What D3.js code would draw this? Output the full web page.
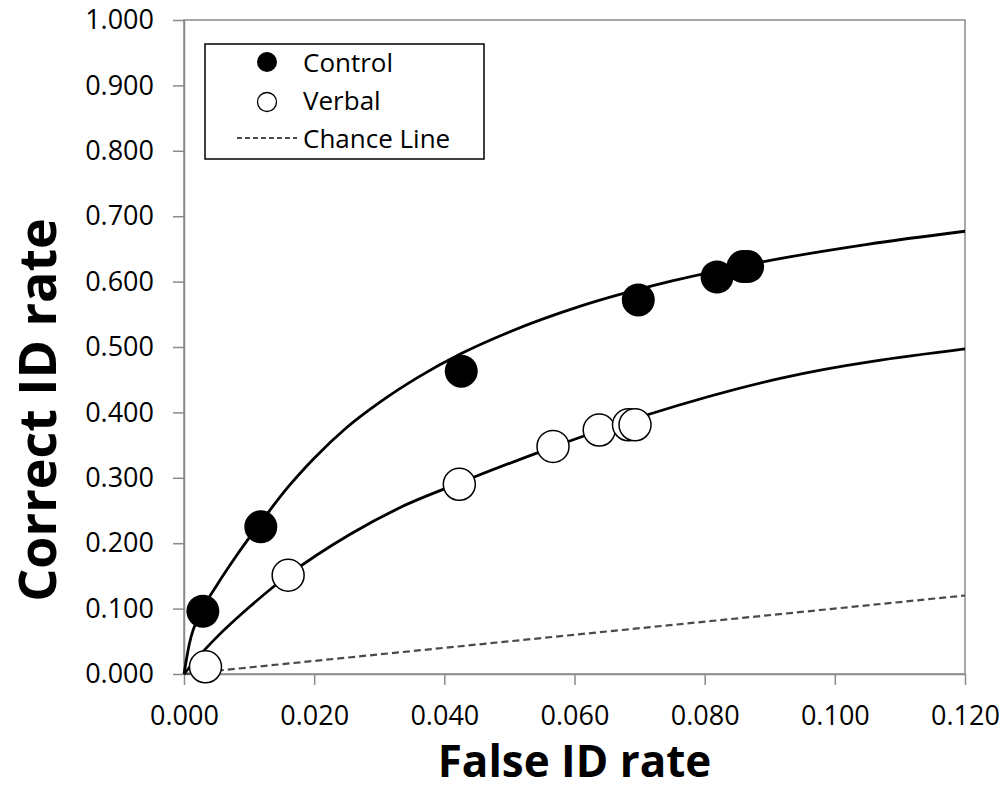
<!DOCTYPE html>
<html>
<head>
<meta charset="utf-8">
<script src="https://cdn.jsdelivr.net/npm/d3@7"></script>
<style>
  html, body { margin: 0; padding: 0; background: #fff; }
  svg { display: block; }
  text { font-family: "Open Sans", "Noto Sans", sans-serif; fill: #000; }
</style>
</head>
<body>
<svg id="chart" width="1008" height="789"></svg>
<script>
// ---- Data ----
const controlFA  = [0.0029, 0.0118, 0.0426, 0.0698, 0.0819, 0.0859, 0.0866];
const controlHit = [0.096, 0.225, 0.463, 0.572, 0.607, 0.623, 0.623];
const verbalFA   = [0.0033, 0.0160, 0.0423, 0.0567, 0.0638, 0.0683, 0.0693];
const verbalHit  = [0.011, 0.151, 0.290, 0.348, 0.373, 0.381, 0.381];

// fitted curves
const controlCurveFA  = [0, 0.0008, 0.0028, 0.0050, 0.0080, 0.0118, 0.0160, 0.0200, 0.0250, 0.0300, 0.0360, 0.0426, 0.0500, 0.0608, 0.0750, 0.0893, 0.1050, 0.1200];
const controlCurveHit = [0, 0.045, 0.098, 0.135, 0.180, 0.232, 0.286, 0.330, 0.377, 0.415, 0.454, 0.490, 0.523, 0.562, 0.601, 0.631, 0.657, 0.677];
const verbalCurveFA   = [0, 0.0020, 0.0050, 0.0100, 0.0160, 0.0256, 0.0333, 0.0423, 0.0567, 0.0711, 0.0916, 0.1200];
const verbalCurveHit  = [0, 0.024, 0.056, 0.102, 0.151, 0.214, 0.255, 0.292, 0.347, 0.396, 0.452, 0.497];
const chanceFA  = [0, 0.12];
const chanceHit = [0, 0.12];

const xTicks = [0, 0.02, 0.04, 0.06, 0.08, 0.10, 0.12];
const yTicks = [0, 0.1, 0.2, 0.3, 0.4, 0.5, 0.6, 0.7, 0.8, 0.9, 1.0];
const legendLabels = ["Control", "Verbal", "Chance Line"];
const xTitle = "False ID rate";
const yTitle = "Correct ID rate";

// ---- Layout ----
const svg = d3.select("#chart");
const L = 184, R = 965, T = 20, B = 674;
const x = d3.scaleLinear().domain([0, 0.12]).range([L, R]);
const y = d3.scaleLinear().domain([0, 1]).range([B, T]);
const axisColor = "#8a8a8a";

svg.append("rect").attr("width", 1008).attr("height", 789).attr("fill", "#fff");

// frame
svg.append("rect")
  .attr("x", L).attr("y", T).attr("width", R - L).attr("height", B - T)
  .attr("fill", "none").attr("stroke", axisColor).attr("stroke-width", 1.5);

// axes
const yAxis = d3.axisLeft(y).tickValues(yTicks).tickFormat(d3.format(".3f"))
  .tickSize(11).tickSizeOuter(0).tickPadding(19);
const gy = svg.append("g").attr("transform", `translate(${L},0)`).call(yAxis);
const xAxis = d3.axisBottom(x).tickValues(xTicks).tickFormat(d3.format(".3f"))
  .tickSize(11).tickSizeOuter(0).tickPadding(21);
const gx = svg.append("g").attr("transform", `translate(0,${B})`).call(xAxis);
[gx, gy].forEach(g => {
  g.select(".domain").attr("stroke", axisColor).attr("stroke-width", 1.5);
  g.selectAll(".tick line").attr("stroke", axisColor).attr("stroke-width", 1.5);
  g.selectAll(".tick text").attr("font-family", '"Open Sans", sans-serif')
    .attr("font-size", 27).attr("fill", "#000");
});

// chance line
const line = d3.line().x(d => x(d[0])).y(d => y(d[1]));
svg.append("path")
  .datum(d3.zip(chanceFA, chanceHit))
  .attr("d", line)
  .attr("fill", "none").attr("stroke", "#4a4a4a").attr("stroke-width", 2.2)
  .attr("stroke-dasharray", "7,4");

// fitted curves
const curveLine = d3.line().x(d => x(d[0])).y(d => y(d[1])).curve(d3.curveMonotoneX);
svg.append("path")
  .datum(d3.zip(controlCurveFA, controlCurveHit))
  .attr("d", curveLine)
  .attr("fill", "none").attr("stroke", "#000").attr("stroke-width", 2.8);
svg.append("path")
  .datum(d3.zip(verbalCurveFA, verbalCurveHit))
  .attr("d", curveLine)
  .attr("fill", "none").attr("stroke", "#000").attr("stroke-width", 2.8);

// points
svg.append("g").selectAll("circle")
  .data(d3.zip(verbalFA, verbalHit)).join("circle")
  .attr("cx", d => x(d[0])).attr("cy", d => y(d[1])).attr("r", 16)
  .attr("fill", "#fff").attr("stroke", "#000").attr("stroke-width", 1.5);
svg.append("g").selectAll("circle")
  .data(d3.zip(controlFA, controlHit)).join("circle")
  .attr("cx", d => x(d[0])).attr("cy", d => y(d[1])).attr("r", 16.5)
  .attr("fill", "#000");

// axis titles
svg.append("text")
  .attr("x", (L + R) / 2).attr("y", 777)
  .attr("text-anchor", "middle")
  .attr("font-size", 44).attr("font-weight", "bold")
  .text(xTitle);
svg.append("text")
  .attr("transform", "translate(56,410) rotate(-90)")
  .attr("text-anchor", "middle")
  .attr("font-size", 52).attr("font-weight", "bold")
  .text(yTitle);

// legend
const lg = svg.append("g");
lg.append("rect").attr("x", 205).attr("y", 44).attr("width", 279).attr("height", 115)
  .attr("fill", "#fff").attr("stroke", "#000").attr("stroke-width", 1.5);
lg.append("circle").attr("cx", 267).attr("cy", 62).attr("r", 10).attr("fill", "#000");
lg.append("circle").attr("cx", 267).attr("cy", 102).attr("r", 9.5)
  .attr("fill", "#fff").attr("stroke", "#000").attr("stroke-width", 1.3);
lg.append("line").attr("x1", 237).attr("x2", 297).attr("y1", 138).attr("y2", 138)
  .attr("stroke", "#4a4a4a").attr("stroke-width", 2).attr("stroke-dasharray", "5,3");
const baselines = [72, 110, 148];
legendLabels.forEach((t, i) => {
  lg.append("text").attr("x", 303).attr("y", baselines[i])
    .attr("font-size", 26).text(t);
});
</script>
</body>
</html>
